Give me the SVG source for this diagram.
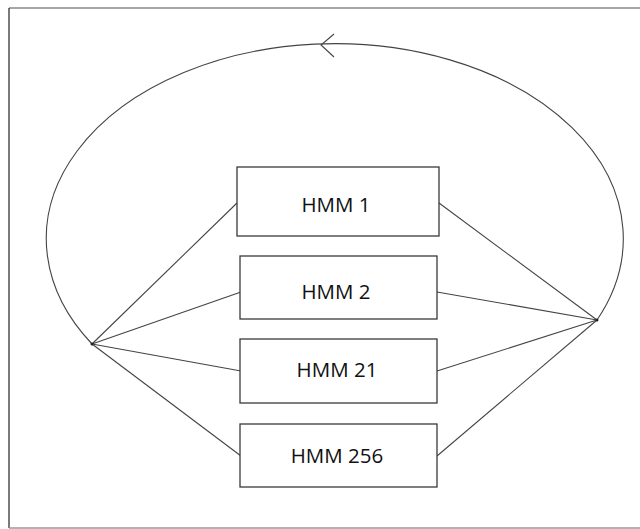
<svg xmlns="http://www.w3.org/2000/svg" width="640" height="529" viewBox="0 0 640 529">
<style>
.box{fill:#fff;stroke:#3a3a3a;stroke-width:1.3}
.lbl{font-family:"Open Sans","Liberation Sans",Arial,sans-serif;font-size:20.5px;fill:#111;text-anchor:middle}
.con{stroke:#444;stroke-width:1.1;fill:none}
</style>
<rect width="640" height="529" fill="#fff"/>
<g id="frame">
<line x1="9" y1="8" x2="640" y2="8" stroke="#888" stroke-width="1.3"/>
<line x1="9" y1="8" x2="9" y2="528" stroke="#333" stroke-width="1.3"/>
<line x1="9" y1="528" x2="640" y2="528" stroke="#999" stroke-width="1.3"/>
</g>
<g id="connectors">
<path class="con" d="M 92 344 A 288.5 195 0 1 1 597 320" stroke="#333" stroke-width="1.2"/>
<path class="con" d="M 334 34 L 321 45 L 334 57" stroke="#333"/>
<line class="con" x1="92" y1="344" x2="237" y2="203"/>
<line class="con" x1="92" y1="344" x2="241" y2="292"/>
<line class="con" x1="92" y1="344" x2="241" y2="371"/>
<line class="con" x1="92" y1="344" x2="241" y2="456"/>
<line class="con" x1="597" y1="320" x2="439" y2="203"/>
<line class="con" x1="597" y1="320" x2="437" y2="292"/>
<line class="con" x1="597" y1="320" x2="437" y2="371"/>
<line class="con" x1="597" y1="320" x2="437" y2="456"/>
<circle cx="92" cy="344" r="1.5" fill="#222"/>
<circle cx="597" cy="320" r="1.5" fill="#222"/>
</g>
<g id="hmm1"><rect class="box" x="237" y="167" width="202" height="69"/><text class="lbl" x="336" y="212">HMM 1</text></g>
<g id="hmm2"><rect class="box" x="240" y="256" width="197" height="63"/><text class="lbl" x="336" y="299">HMM 2</text></g>
<g id="hmm21"><rect class="box" x="240" y="339" width="197" height="64"/><text class="lbl" x="337" y="377">HMM 21</text></g>
<g id="hmm256"><rect class="box" x="240" y="424" width="197" height="63"/><text class="lbl" x="337" y="463">HMM 256</text></g>
</svg>
